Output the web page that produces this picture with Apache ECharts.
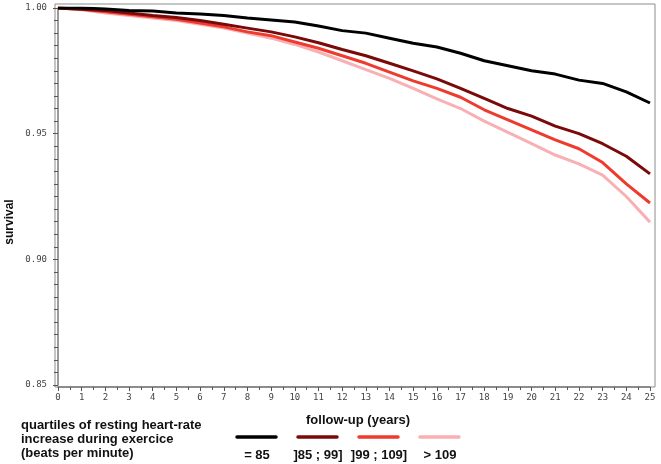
<!DOCTYPE html>
<html>
<head>
<meta charset="utf-8">
<script src="https://cdn.jsdelivr.net/npm/echarts@6/dist/echarts.min.js"></script>
<style>html,body{margin:0;padding:0;background:#fff}#c{width:661px;height:464px}</style>
</head>
<body>
<div id="c"></div>
<script>
var years = [0,1,2,3,4,5,6,7,8,9,10,11,12,13,14,15,16,17,18,19,20,21,22,23,24,25];
var seriesNames = ['= 85', ']85 ; 99]', ']99 ; 109]', '> 109'];
var colors = ['#000000', '#7a0a0a', '#ee3b2e', '#f9b0b4'];
var q1 = [1.000,1.000,0.9996,0.999,0.9988,0.998,0.9976,0.997,0.996,0.9952,0.9944,0.9928,0.991,0.990,0.988,0.986,0.9845,0.982,0.979,0.977,0.975,0.9737,0.9713,0.970,0.9666,0.9622];
var q2 = [1.000,0.9995,0.999,0.998,0.997,0.9962,0.995,0.9935,0.992,0.9905,0.9885,0.9862,0.9835,0.981,0.978,0.975,0.9718,0.968,0.964,0.960,0.957,0.953,0.950,0.946,0.941,0.934];
var q3 = [1.000,0.9995,0.9985,0.9975,0.9965,0.9955,0.994,0.9925,0.9905,0.989,0.9865,0.984,0.981,0.978,0.9745,0.971,0.968,0.9645,0.9595,0.9555,0.9515,0.9475,0.944,0.9385,0.930,0.9224];
var q4 = [1.000,0.9993,0.998,0.997,0.996,0.995,0.9935,0.992,0.990,0.988,0.9855,0.9825,0.979,0.9755,0.972,0.968,0.9638,0.960,0.955,0.9505,0.946,0.9415,0.938,0.9335,0.925,0.9148];
var allValues = [q1,q2,q3,q4];
var legendTitle = ['quartiles of resting heart-rate', 'increase during exercice', '(beats per minute)'];
var xTitle = 'follow-up (years)';
var yTitle = 'survival';

var chart = echarts.init(document.getElementById('c'));
var series = allValues.map(function(vals, i){
  return {
    name: seriesNames[i], type: 'line', showSymbol: false, symbol: 'none',
    data: years.map(function(y, j){ return [y, vals[j]]; }),
    lineStyle: {color: colors[i], width: 3},
    itemStyle: {color: colors[i]},
    z: 10 - i
  };
});
var tickFont = {fontFamily: 'DejaVu Sans Mono', fontSize: 9, color: '#444'};
var boldFont = 'bold 13px "Liberation Sans", Arial';
var graphics = [
  {type: 'rect', shape: {x: 55, y: 4, width: 600, height: 383}, style: {fill: 'none', stroke: '#8c8c8c', lineWidth: 1}, silent: true},
  {type: 'text', x: 10, y: 222, rotation: Math.PI/2, style: {text: yTitle, font: 'bold 12px "Liberation Sans", Arial', fill: '#111', textAlign: 'center', textVerticalAlign: 'middle'}},
  {type: 'text', x: 358, y: 420, style: {text: xTitle, font: boldFont, fill: '#111', textAlign: 'center', textVerticalAlign: 'middle'}}
];
legendTitle.forEach(function(t, i){
  graphics.push({type: 'text', x: 21, y: 425 + i*14, style: {text: t, font: boldFont, fill: '#111', textAlign: 'left', textVerticalAlign: 'middle'}});
});
var legX = [237, 298, 359, 420];
seriesNames.forEach(function(n, i){
  graphics.push({type: 'line', shape: {x1: legX[i], y1: 437, x2: legX[i] + 39, y2: 437}, style: {stroke: colors[i], lineWidth: 3.5, lineCap: 'round'}});
  graphics.push({type: 'text', x: legX[i] + 20, y: 455, style: {text: n, font: boldFont, fill: '#111', textAlign: 'center', textVerticalAlign: 'middle'}});
});
chart.setOption({
  animation: false,
  backgroundColor: '#fff',
  grid: {left: 58, right: 11, top: 8, bottom: 79},
  xAxis: {
    type: 'value', min: 0, max: 25, interval: 1, offset: 2,
    axisLine: {lineStyle: {color: '#7a7a7a', width: 1.5}},
    axisTick: {length: 4, lineStyle: {color: '#555'}},
    minorTick: {show: true, splitNumber: 2, length: 3, lineStyle: {color: '#555'}},
    splitLine: {show: false},
    axisLabel: Object.assign({margin: 6}, tickFont)
  },
  yAxis: {
    type: 'value', min: 0.85, max: 1.0, interval: 0.05, offset: 3,
    axisLine: {show: true, lineStyle: {color: '#7a7a7a', width: 1.5}},
    axisTick: {show: true, length: 5, lineStyle: {color: '#555'}},
    minorTick: {show: true, splitNumber: 10, length: 4, lineStyle: {color: '#555'}},
    splitLine: {show: false},
    axisLabel: Object.assign({margin: 8, formatter: function(v){ return v.toFixed(2); }}, tickFont)
  },
  series: series,
  graphic: graphics
});
</script>
</body>
</html>
